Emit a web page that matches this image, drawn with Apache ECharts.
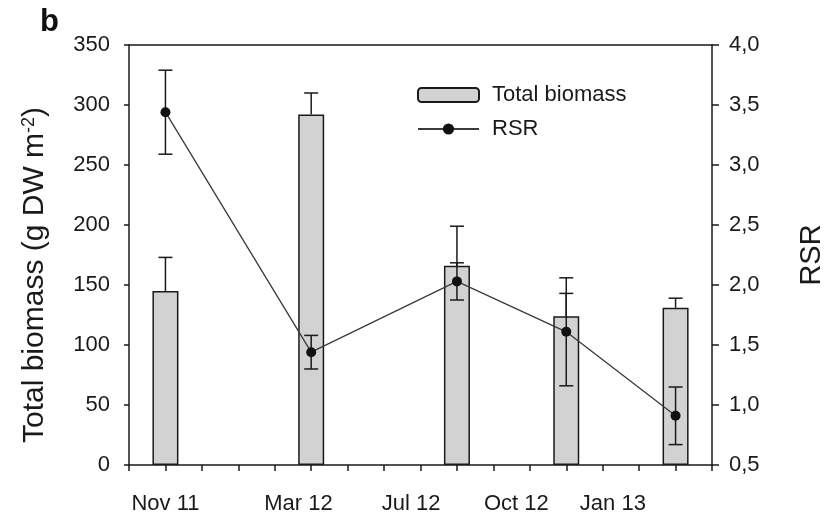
<!DOCTYPE html>
<html>
<head>
<meta charset="utf-8">
<script src="https://cdn.jsdelivr.net/npm/echarts@6/dist/echarts.min.js"></script>
<style>
  html, body { margin: 0; padding: 0; background: #fff; }
  #chart { width: 825px; height: 512px; }
</style>
</head>
<body>
<div id="chart"></div>
<script>
// Sampling dates, in months counted from November 2011
const sampleMonth = [0, 4, 8, 11, 14];
const sampleLabels = ['Nov 11', 'Mar 12', 'Jul 12', 'Oct 12', 'Jan 13'];
// Where the date labels sit along the month axis
const labelAt = [0, 3.65, 6.74, 9.63, 12.28];

// Total biomass (g DW m-2), mean and standard error
const biomass = [145, 292, 166, 124, 131];
const biomassErr = [28, 18, 33, 19, 8];

// Root:shoot ratio, mean and standard error
const rsr = [3.44, 1.44, 2.03, 1.61, 0.91];
const rsrErr = [0.35, 0.14, 0.155, 0.45, 0.24];

// Axis ranges and tick steps
const monthMin = -1, monthMax = 15;
const leftMin = 0, leftMax = 350, leftStep = 50;
const rightMin = 0.5, rightMax = 4.0, rightStep = 0.5;

const FONT = 'Liberation Sans, Arial, Helvetica, sans-serif';
const INK = '#1a1a1a';

const barData = sampleMonth.map((m, i) => [m, biomass[i]]);
const barErrData = sampleMonth.map((m, i) => [m, biomass[i], biomassErr[i]]);
const rsrData = sampleMonth.map((m, i) => [m, rsr[i]]);
const rsrErrData = sampleMonth.map((m, i) => [m, rsr[i], rsrErr[i]]);

function errorBars(upOnly) {
  return function (params, api) {
    const x = api.value(0), y = api.value(1), e = api.value(2);
    const top = api.coord([x, y + e]);
    const bot = api.coord([x, upOnly ? y : y - e]);
    const hw = 7;
    const style = { stroke: INK, lineWidth: 1.5 };
    const children = [
      { type: 'line', shape: { x1: top[0], y1: top[1], x2: bot[0], y2: bot[1] }, style: style },
      { type: 'line', shape: { x1: top[0] - hw, y1: top[1], x2: top[0] + hw, y2: top[1] }, style: style }
    ];
    if (!upOnly) {
      children.push({ type: 'line', shape: { x1: bot[0] - hw, y1: bot[1], x2: bot[0] + hw, y2: bot[1] }, style: style });
    }
    return { type: 'group', children: children };
  };
}

const chart = echarts.init(document.getElementById('chart'), null, { renderer: 'canvas' });

chart.setOption({
  animation: false,
  backgroundColor: '#fff',
  textStyle: { fontFamily: FONT },
  grid: { left: 129, right: 113, top: 45, bottom: 47, containLabel: false, outerBoundsMode: 'none' },
  graphic: [
    {
      type: 'text', left: 40, top: 7,
      style: { text: 'b', font: 'bold 31px ' + FONT, fill: '#111' }
    }
  ],
  legend: {
    orient: 'vertical',
    left: 412, top: 79,
    itemWidth: 61, itemHeight: 14, itemGap: 12,
    data: ['Total biomass', 'RSR'],
    textStyle: { fontSize: 22, color: INK, fontFamily: FONT, padding: [0, 0, 0, 8] }
  },
  xAxis: [
    {
      type: 'value', min: monthMin, max: monthMax, interval: 1,
      position: 'bottom',
      splitLine: { show: false },
      axisLine: { show: true, onZero: false, lineStyle: { color: INK, width: 1.5 } },
      axisTick: { show: true, length: 6, lineStyle: { color: INK, width: 1.5 } },
      axisLabel: {
        customValues: labelAt,
        margin: 28,
        fontSize: 22, color: INK, fontFamily: FONT,
        formatter: function (v) {
          let best = 0;
          labelAt.forEach((p, i) => { if (Math.abs(p - v) < Math.abs(labelAt[best] - v)) best = i; });
          return sampleLabels[best];
        }
      }
    },
    {
      type: 'value', min: monthMin, max: monthMax,
      position: 'top',
      splitLine: { show: false },
      axisLine: { show: true, onZero: false, lineStyle: { color: INK, width: 1.5 } },
      axisTick: { show: false },
      axisLabel: { show: false }
    }
  ],
  yAxis: [
    {
      type: 'value', min: leftMin, max: leftMax, interval: leftStep,
      position: 'left',
      splitLine: { show: false },
      axisLine: { show: true, onZero: false, lineStyle: { color: INK, width: 1.5 } },
      axisTick: { show: true, length: 5, lineStyle: { color: INK, width: 1.5 } },
      axisLabel: { margin: 19, fontSize: 22, color: INK, fontFamily: FONT },
      name: 'Total biomass (g DW m{sup|-2})',
      nameLocation: 'middle',
      nameGap: 79,
      nameRotate: 90,
      nameTextStyle: {
        fontSize: 30, color: INK, fontFamily: FONT,
        padding: [0, 40, 0, 0],
        rich: { sup: { fontSize: 18, color: INK, fontFamily: FONT, verticalAlign: 'top', padding: [0, 0, 12, 0] } }
      }
    },
    {
      type: 'value', min: rightMin, max: rightMax, interval: rightStep,
      position: 'right',
      splitLine: { show: false },
      axisLine: { show: true, onZero: false, lineStyle: { color: INK, width: 1.5 } },
      axisTick: { show: true, length: 7, lineStyle: { color: INK, width: 1.5 } },
      axisLabel: {
        margin: 17, fontSize: 22, color: INK, fontFamily: FONT,
        formatter: v => v.toFixed(1).replace('.', ',')
      },
      name: 'RSR',
      nameLocation: 'middle',
      nameGap: 85,
      nameRotate: 90,
      nameTextStyle: { fontSize: 29, color: INK, fontFamily: FONT }
    }
  ],
  series: [
    {
      name: 'Total biomass',
      type: 'bar',
      xAxisIndex: 0, yAxisIndex: 0,
      barWidth: 26,
      data: barData,
      itemStyle: { color: '#d2d2d2', borderColor: INK, borderWidth: 1.5 },
      z: 2
    },
    {
      name: 'biomassErr',
      type: 'custom',
      xAxisIndex: 0, yAxisIndex: 0,
      renderItem: errorBars(true),
      data: barErrData,
      z: 3
    },
    {
      name: 'rsrErr',
      type: 'custom',
      xAxisIndex: 0, yAxisIndex: 1,
      renderItem: errorBars(false),
      data: rsrErrData,
      z: 4
    },
    {
      name: 'RSR',
      type: 'line',
      xAxisIndex: 0, yAxisIndex: 1,
      data: rsrData,
      symbol: 'circle', symbolSize: 10,
      lineStyle: { color: '#3a3a3a', width: 1.3 },
      itemStyle: { color: '#111' },
      z: 5
    }
  ]
});
</script>
</body>
</html>
